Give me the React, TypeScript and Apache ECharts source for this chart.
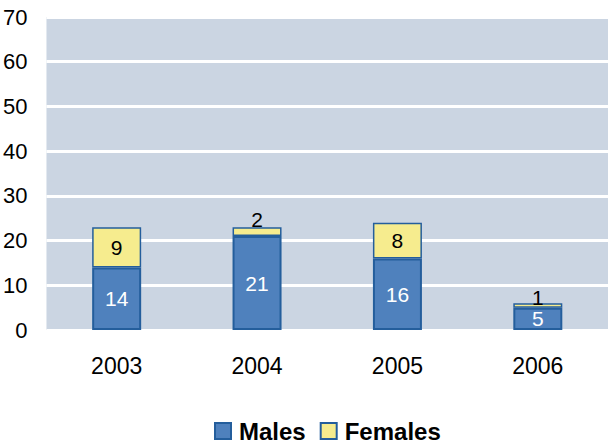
import React, { useEffect, useRef } from "react";
import * as echarts from "echarts";

const categories = ["2003", "2004", "2005", "2006"];
const males = [14, 21, 16, 5];
const females = [9, 2, 8, 1];
const yTicks = [0, 10, 20, 30, 40, 50, 60, 70];

export default function App() {
  const ref = useRef<HTMLDivElement>(null);
  useEffect(() => {
    const chart = echarts.init(ref.current!, undefined, { renderer: "svg" });
    const font = "'Liberation Sans', Arial, sans-serif";
    const border = "#245E9C";
    chart.setOption({
      animation: false,
      textStyle: { fontFamily: font },
      grid: {
        left: 46,
        right: 0,
        top: 17,
        bottom: 115,
        show: true,
        backgroundColor: "#CBD5E2",
        borderWidth: 0,
      },
      legend: {
        top: 419,
        left: 214,
        padding: 0,
        icon: "rect",
        itemWidth: 16,
        itemHeight: 16,
        itemGap: 14,
        textStyle: {
          fontSize: 24,
          lineHeight: 24,
          fontWeight: "bold",
          color: "#000",
          fontFamily: font,
          padding: [0, 0, 0, 3],
        },
        data: [
          { name: "Males", itemStyle: { color: "#4F81BD", borderColor: border, borderWidth: 2 } },
          { name: "Females", itemStyle: { color: "#F6EC8E", borderColor: border, borderWidth: 2 } },
        ],
      },
      xAxis: {
        type: "category",
        data: categories,
        axisLine: { show: false },
        axisTick: { show: false },
        axisLabel: { fontSize: 23, color: "#000", margin: 24, fontFamily: font },
      },
      yAxis: {
        type: "value",
        min: yTicks[0],
        max: yTicks[yTicks.length - 1],
        interval: 10,
        axisLine: { show: false },
        axisTick: { show: false },
        axisLabel: { fontSize: 22, color: "#000", margin: 19, fontFamily: font },
        splitLine: { show: true, lineStyle: { color: "#FFFFFF", width: 3 } },
      },
      series: [
        {
          name: "Males",
          type: "bar",
          stack: "total",
          barWidth: 49,
          data: males,
          itemStyle: { color: "#4F81BD", borderColor: border, borderWidth: 2 },
          label: {
            show: true,
            position: "inside",
            color: "#FFFFFF",
            fontSize: 21,
            fontFamily: font,
          },
        },
        {
          name: "Females",
          type: "bar",
          stack: "total",
          barWidth: 49,
          data: females.map((v) =>
            v <= 2
              ? { value: v, label: { position: "top", distance: v === 1 ? -5 : -3 } }
              : v
          ),
          itemStyle: { color: "#F6EC8E", borderColor: border, borderWidth: 1.5 },
          label: {
            show: true,
            position: "inside",
            color: "#000000",
            fontSize: 21,
            fontFamily: font,
          },
        },
      ],
    });
    return () => chart.dispose();
  }, []);
  return <div ref={ref} style={{ width: 608, height: 445, position: "absolute", left: 0, top: 0 }} />;
}
